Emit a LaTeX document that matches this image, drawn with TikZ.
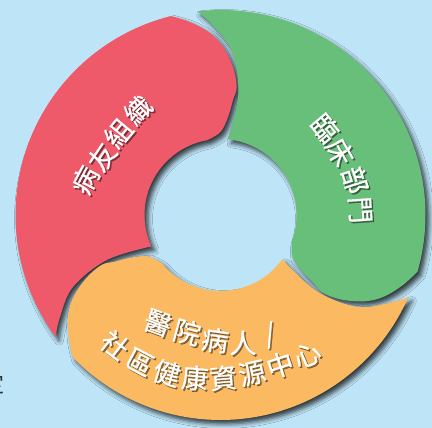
\documentclass[tikz,border=0pt]{standalone}
\usepackage{fontspec}
\newfontfamily\cjk{Noto Sans CJK TC}[FakeBold=0.7]
\newfontfamily\cjkplain{Noto Sans CJK TC}
\usetikzlibrary{shadows.blur}
\definecolor{bg}{RGB}{190,229,247}
\definecolor{segred}{RGB}{239,90,106}
\definecolor{seggreen}{RGB}{104,191,122}
\definecolor{segorange}{RGB}{251,186,97}
\definecolor{darktxt}{RGB}{50,50,50}
\tikzset{
  cjktxt/.style={font=\cjk\fontsize{27}{27}\selectfont, text=white, inner sep=0pt},
  cjkshadow/.style={font=\cjk\fontsize{27}{27}\selectfont, text=black, opacity=0.45, inner sep=0pt},
  segshadow/.style={blur shadow={shadow xshift=0pt, shadow yshift=0pt, shadow blur radius=4.5pt, shadow opacity=75}},
}
\def\segpath{(216.4:205) arc[start angle=216.4, end angle=104, radius=205]
  -- plot[smooth, tension=0.6] coordinates {(104:205) (99:195.4) (93.3:182.3) (89.1:168) (85.2:148.5) (82.8:129) (83.8:115.7) (85.6:98.3) (90:83) (100:76)}
  arc[start angle=100, end angle=204.4, radius=76]
  -- plot[smooth, tension=0.6] coordinates {(204.4:76) (201.6:122) (206:164) (212.4:190) (216.4:205)} -- cycle}
\begin{document}
\begin{tikzpicture}[x=1pt,y=1pt]
\useasboundingbox (-220.5,-213) rectangle (211.5,215);
\fill[bg] (-220.5,-213) rectangle (211.5,215);
% partial text at left edge
\node[font=\cjkplain\fontsize{22}{22}\selectfont, text=darktxt, inner sep=0pt] (edgechar) at (-226.5,-169) {定};
% shadows
\begin{scope}[shift={(3.5,-4)}]
  \foreach \rot in {0,-120,120}{
    \begin{scope}[rotate=\rot]
      \path[segshadow] \segpath;
    \end{scope}
  }
\end{scope}
% segments
\fill[segred] \segpath;
\begin{scope}[rotate=-120]\fill[seggreen] \segpath;\end{scope}
\begin{scope}[rotate=120]\fill[segorange] \segpath;\end{scope}
% texts
\foreach \x/\y/\r/\c [count=\i] in {
  -135.5/35/62/病, -118.5/58/56/友, -102.5/82/50/組, -82.5/105/44/織,
  104.5/87/-50/臨, 119.5/63/-60/床, 134.5/35/-72/部, 139.5/5/-86/門,
  -62.5/-108/-20/醫, -33.5/-117/-15/院, -5.5/-125/-8/病, 22.5/-128/0/人, 49.5/-120/12/{/},
  -105.5/-130/-38/社, -80.5/-147/-28/區, -53.5/-158/-16/健, -25.5/-163/-5/康, 2.5/-163/5/資, 31.5/-158/13/源, 59.5/-150/18/中, 86.5/-140/23/心}{
  \node[cjkshadow, rotate=\r] (s\i) at (\x+1.5,\y-1.5) {\c};
  \node[cjktxt, rotate=\r] (t\i) at (\x,\y) {\c};
}
\end{tikzpicture}
\end{document}
